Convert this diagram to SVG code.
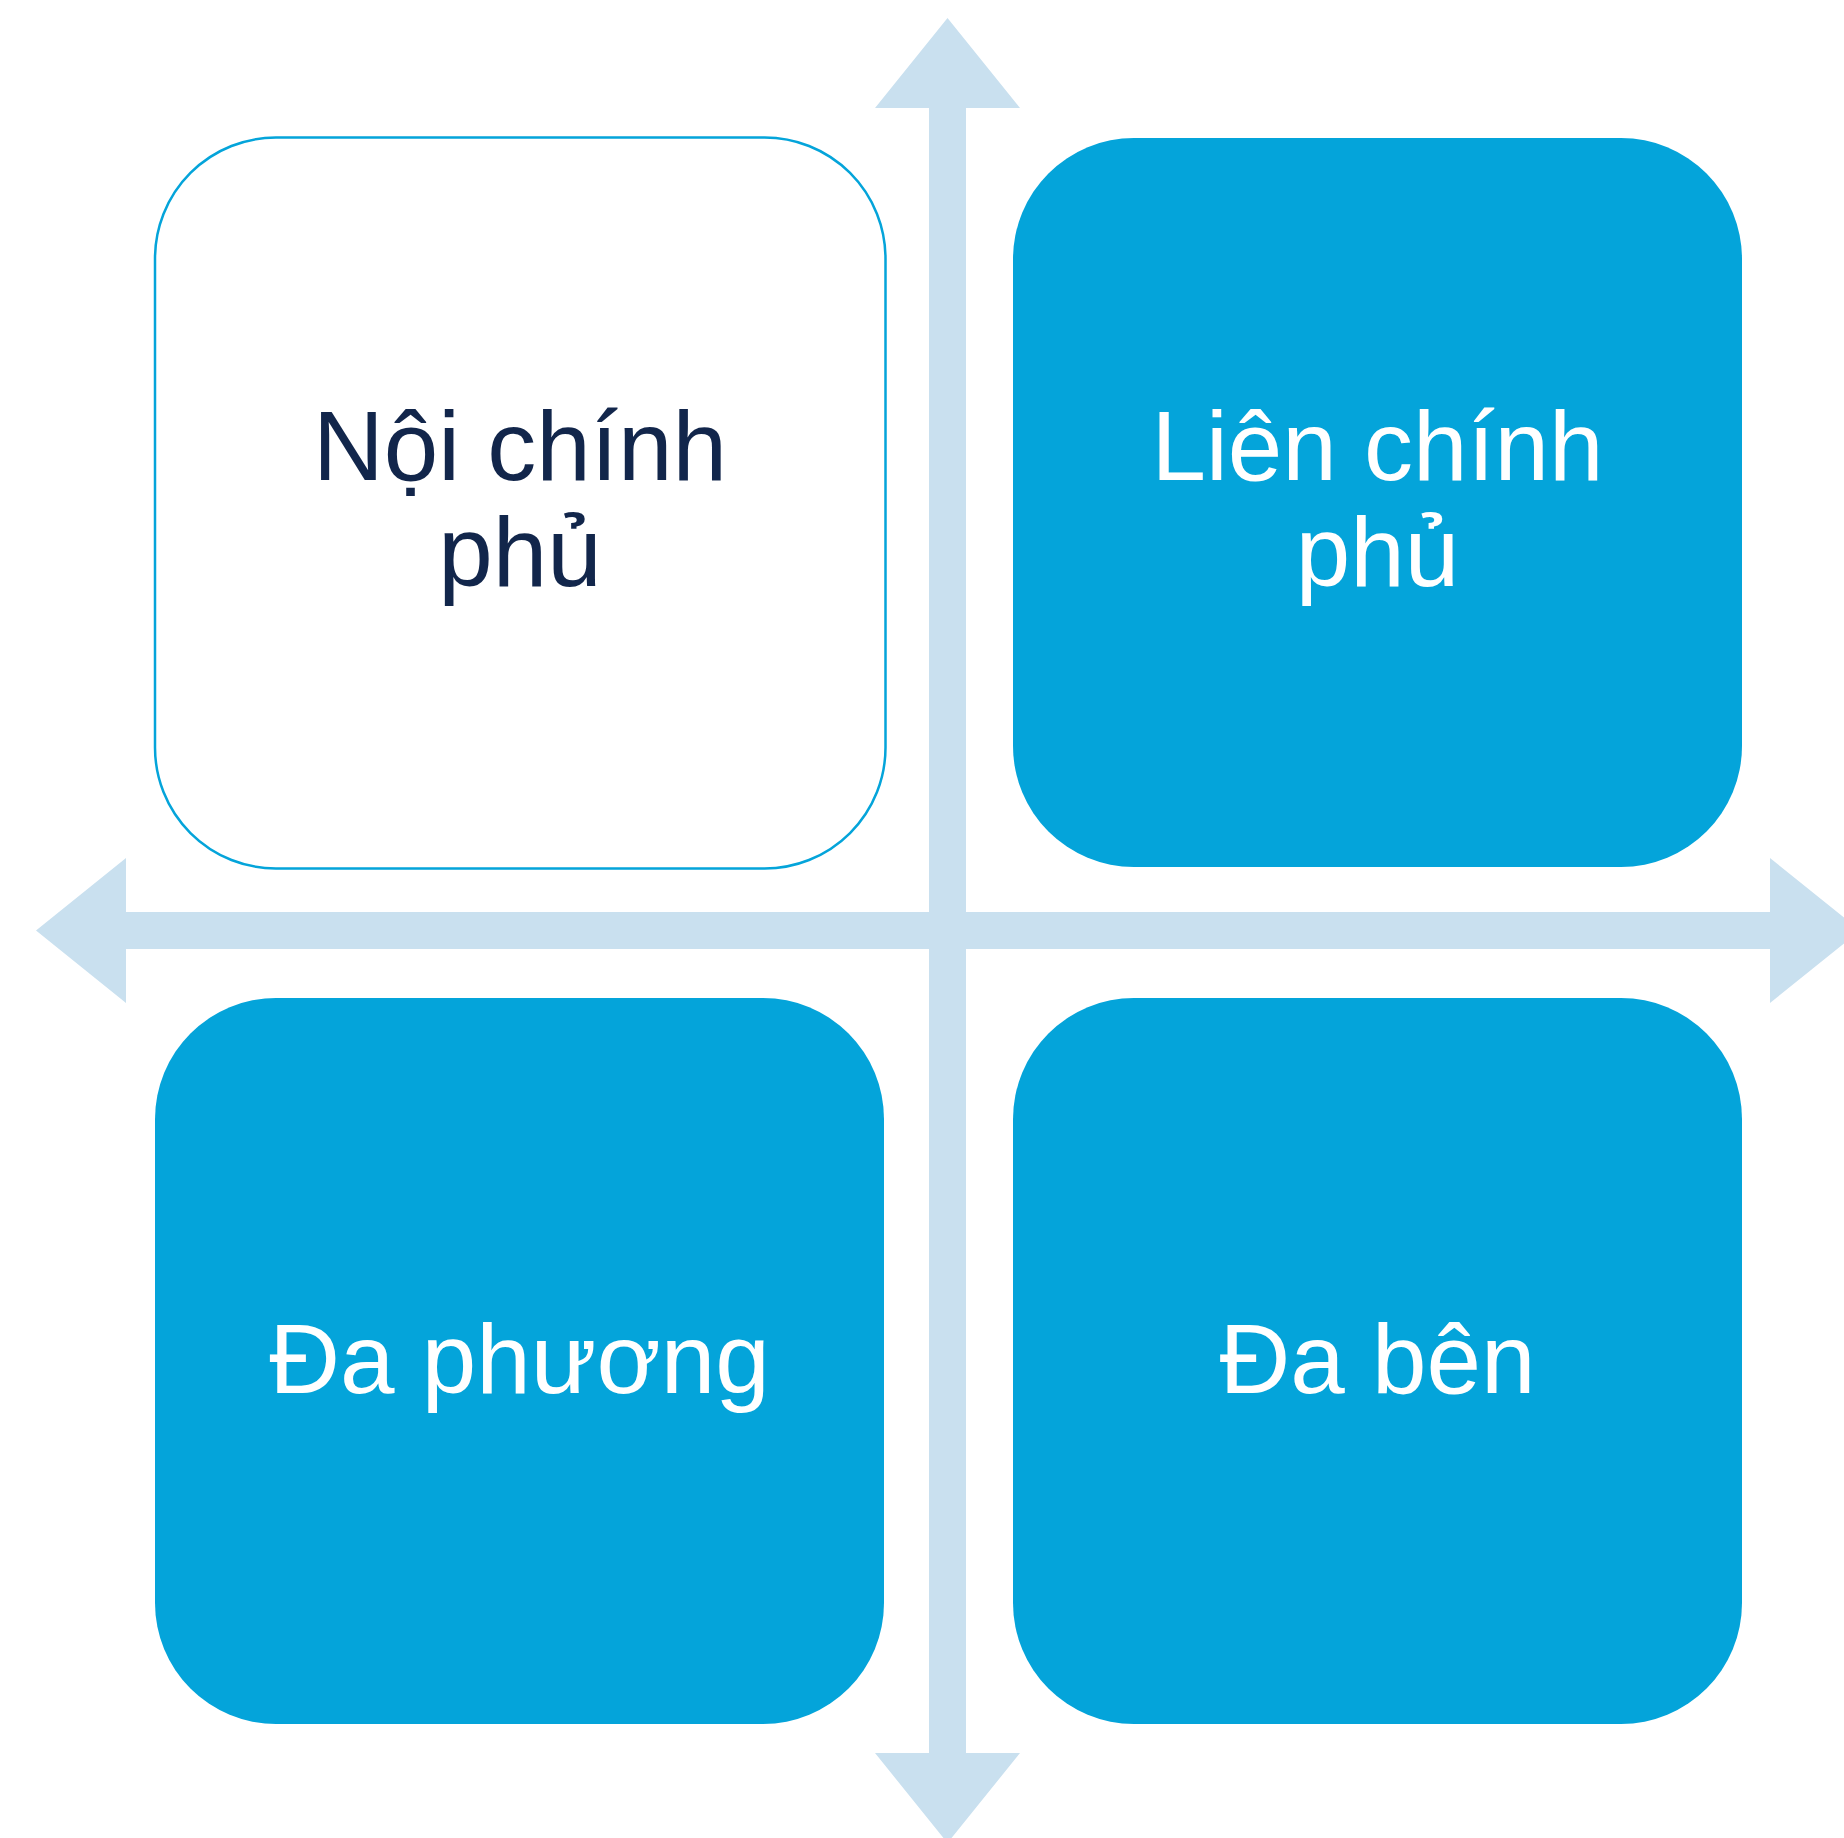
<svg xmlns="http://www.w3.org/2000/svg" width="1844" height="1838" viewBox="0 0 1844 1838">
  <style>
    .axis { fill: #C9E0EF; }
    .box-filled { fill: #04A4DA; }
    .box-outline { fill: #FFFFFF; stroke: #04A4DA; stroke-width: 2.5; }
    .label { font-family: "Liberation Sans", Arial, sans-serif; font-size: 98px; text-anchor: middle; }
    .label-dark { fill: #12264B; }
    .label-light { fill: #FFFFFF; }
  </style>
  <rect width="1844" height="1838" fill="#FFFFFF"/>

  <!-- axes: double-headed arrows -->
  <g id="connectors">
    <polygon class="axis" points="36,930.5 126,858 126,912 1770,912 1770,858 1860,930.5 1770,1003 1770,949 126,949 126,1003"/>
    <polygon class="axis" points="947.5,18 1020,108 966,108 966,1753 1020,1753 947.5,1843 875,1753 929,1753 929,108 875,108"/>
  </g>

  <g id="noi-chinh-phu">
    <rect class="box-outline" x="155" y="137.5" width="730.5" height="731" rx="121" ry="121"/>
    <text class="label label-dark" x="520" y="480">Nội chính</text>
    <text class="label label-dark" x="520" y="586">phủ</text>
  </g>

  <g id="lien-chinh-phu">
    <rect class="box-filled" x="1013" y="138" width="729" height="729" rx="121" ry="121"/>
    <text class="label label-light" x="1377.5" y="480">Liên chính</text>
    <text class="label label-light" x="1377.5" y="586">phủ</text>
  </g>

  <g id="da-phuong">
    <rect class="box-filled" x="155" y="998" width="729" height="726" rx="121" ry="121"/>
    <text class="label label-light" x="519.5" y="1393">Đa phương</text>
  </g>

  <g id="da-ben">
    <rect class="box-filled" x="1013" y="998" width="729" height="726" rx="121" ry="121"/>
    <text class="label label-light" x="1377.5" y="1393">Đa bên</text>
  </g>
</svg>
